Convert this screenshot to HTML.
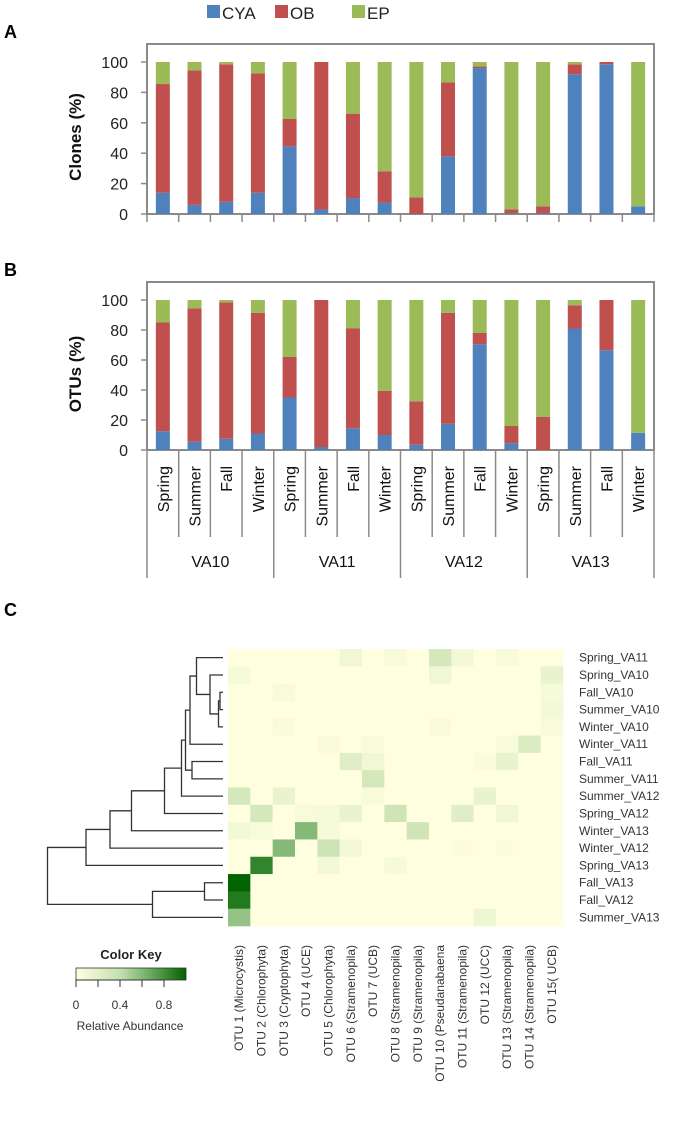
<!DOCTYPE html>
<html><head><meta charset="utf-8"><style>
html,body{margin:0;padding:0;background:#fff;}
svg{display:block;font-family:"Liberation Sans",Arial,sans-serif;}
</style></head><body>
<svg id="fig" width="685" height="1131" viewBox="0 0 685 1131">
<g id="legend">
 <rect x="207" y="5" width="13" height="13" fill="#4f81bd"/>
 <text x="222" y="19" font-size="17" fill="#222">CYA</text>
 <rect x="275" y="5" width="13" height="13" fill="#c0504d"/>
 <text x="290" y="19" font-size="17" fill="#222">OB</text>
 <rect x="352" y="5" width="13" height="13" fill="#9bbb59"/>
 <text x="367" y="19" font-size="17" fill="#222">EP</text>
</g>
<text x="4" y="38" font-size="18" font-weight="bold">A</text>
<text x="4" y="276" font-size="18" font-weight="bold">B</text>
<text x="4" y="616" font-size="18" font-weight="bold">C</text>
<g id="chartA"></g>
<g id="chartB"></g>
<g id="heat"></g>
<g id="dendro"></g>
<g id="key"></g>
</svg>
<script>
const seasons = ["Spring","Summer","Fall","Winter"];
const sites = ["VA10","VA11","VA12","VA13"];
const yTicks = [0,20,40,60,80,100];
const clonesCYA = [14,6,8,14,44.5,3,10.5,7.5,0,38,96,0.5,0.5,92,98.5,5];
const clonesOB  = [71.5,88.5,90.5,78.5,18,97,55.5,20.5,11,48.5,1,2.5,4.5,6.5,1.5,0];
const otusCYA = [12.5,5.5,7.5,11,35,2,14.5,10,3.5,17.5,70.5,4.5,0,81,66.5,11.5];
const otusOB  = [72.5,89,91,80.5,27,98,66.5,29.5,29,74,7.5,11.5,22,15.5,33.5,0];
const rowLabels = ["Spring_VA11","Spring_VA10","Fall_VA10","Summer_VA10","Winter_VA10","Winter_VA11","Fall_VA11","Summer_VA11","Summer_VA12","Spring_VA12","Winter_VA13","Winter_VA12","Spring_VA13","Fall_VA13","Fall_VA12","Summer_VA13"];
const colLabels = ["OTU 1 (Microcystis)","OTU 2 (Chlorophyta)","OTU 3 (Cryptophyta)","OTU 4 (UCE)","OTU 5 (Chlorophyta)","OTU 6 (Stramenopila)","OTU 7 (UCB)","OTU 8 (Stramenopila)","OTU 9 (Stramenopila)","OTU 10 (Pseudanabaena","OTU 11 (Stramenopila)","OTU 12 (UCC)","OTU 13 (Stramenopila)","OTU 14 (Stramenopila)","OTU 15( UCB)"];
const heatValues = [
[0,0,0,0,0,0.1,0,0.05,0,0.3,0.08,0,0.05,0,0],
[0.07,0,0,0,0,0,0,0,0,0.1,0,0,0,0,0.15],
[0,0,0.05,0,0,0,0,0,0,0,0,0,0,0,0.07],
[0,0,0,0,0,0,0,0,0,0,0,0,0,0,0.08],
[0,0,0.04,0,0,0,0,0,0,0.05,0,0,0,0,0.05],
[0,0,0,0,0.05,0,0.05,0,0,0,0,0,0.05,0.25,0],
[0,0,0,0,0,0.22,0.1,0,0,0,0,0.04,0.15,0,0],
[0,0,0,0,0,0,0.3,0,0,0,0,0,0,0,0],
[0.3,0,0.15,0,0,0,0.05,0,0,0,0,0.15,0,0,0],
[0,0.3,0,0.05,0.07,0.15,0,0.33,0,0,0.22,0,0.1,0,0],
[0.08,0.05,0,0.6,0.06,0,0,0,0.33,0,0,0,0,0,0],
[0,0,0.6,0,0.35,0.08,0,0,0,0,0.03,0,0.03,0,0],
[0,0.85,0,0,0.08,0,0,0.06,0,0,0,0,0,0,0],
[1,0,0,0,0,0,0,0,0,0,0,0,0,0,0],
[0.9,0,0,0,0,0,0,0,0,0,0,0,0,0,0],
[0.55,0,0,0,0,0,0,0,0,0,0,0.12,0,0,0]];
const keyTicks = [0,0.2,0.4,0.6,0.8];
const keyLabels = [0,0.4,0.8];

const NS="http://www.w3.org/2000/svg";
function mk(p,t,a){const e=document.createElementNS(NS,t);for(const k in a)e.setAttribute(k,a[k]);p.appendChild(e);return e;}

function barChart(gid,cya,ob,top,y0,y100,ylabel,withCats){
  const g=document.getElementById(gid);
  const L=147,R=654,n=cya.length,cw=(R-L)/n,bw=14;
  const x=i=>L+cw*(i+0.5);
  const y=v=>y0-(v/100)*(y0-y100);
  const fr=mk(g,'rect',{x:L,y:top,width:R-L,height:y0-top,fill:'none',stroke:'#8a8a8a','stroke-width':2});
  
  
  yTicks.forEach(t=>{
    const tk=mk(g,'line',{x1:141,x2:147,y1:y(t),y2:y(t),stroke:'#8a8a8a','stroke-width':1.5});
    
    
    const tl=mk(g,'text',{x:128,y:y(t)+6,'text-anchor':'end','font-size':16,fill:'#222'});
    tl.textContent=t;
    
    
  });
  const yl=mk(g,'text',{x:0,y:0,transform:`translate(81,${(top+y0)/2+8}) rotate(-90)`,'text-anchor':'middle','font-size':17,'font-weight':'bold',fill:'#111'});
  yl.textContent=ylabel;
  
  
  for(let i=0;i<n;i++){
    const c=cya[i],o=ob[i];
    const segs=[[0,c,'#4f81bd','bar-cya'],[c,c+o,'#c0504d','bar-ob'],[c+o,100,'#9bbb59','bar-ep']];
    segs.forEach(s=>{
      if(s[1]-s[0]<=0)return;
      const r=mk(g,'rect',{x:x(i)-bw/2,y:y(s[1]),width:bw,height:y(s[0])-y(s[1]),fill:s[2]});
      
      
    });
  }
  for(let i=0;i<=n;i++){
    const xx=L+cw*i;
    const grp=i%4===0;
    const len=withCats?(grp?y0+128:y0+87):y0+8;
    const ln=mk(g,'line',{x1:xx,x2:xx,y1:y0,y2:len,stroke:'#8a8a8a','stroke-width':1.5});
    
    
  }
  if(withCats){
    for(let i=0;i<n;i++){
      const t=mk(g,'text',{x:0,y:0,transform:`translate(${x(i)+6},466) rotate(-90)`,'text-anchor':'end','font-size':16,fill:'#111'});
      t.textContent=seasons[i%4];
      
      
    }
    sites.forEach((s,j)=>{
      const t=mk(g,'text',{x:L+cw*(4*j+2),y:567,'text-anchor':'middle','font-size':16,fill:'#111'});
      t.textContent=s;
      
      
    });
  }
}
barChart('chartA',clonesCYA,clonesOB,44,214,62,'Clones (%)',false);
barChart('chartB',otusCYA,otusOB,282,450,300,'OTUs (%)',true);

function col(v){
  const stops=[[0,[255,255,224]],[0.4,[197,224,176]],[0.7,[100,165,90]],[1,[0,100,0]]];
  for(let i=1;i<stops.length;i++){if(v<=stops[i][0]){const a=stops[i-1],b=stops[i],t=(v-a[0])/(b[0]-a[0]);
    return 'rgb('+a[1].map((c,k)=>Math.round(c+(b[1][k]-c)*t)).join(',')+')';}}
  return 'rgb(0,100,0)';
}
(function(){
  const g=document.getElementById('heat');
  const X0=228,X1=563,Y0=649,Y1=926;
  const nc=colLabels.length,nr=rowLabels.length,cw=(X1-X0)/nc,rh=(Y1-Y0)/nr;
  heatValues.forEach((row,r)=>row.forEach((v,c)=>{
    const e=mk(g,'rect',{x:X0+c*cw,y:Y0+r*rh,width:cw+0.3,height:rh+0.3,fill:col(v)});
    
    
  }));
  rowLabels.forEach((l,r)=>{
    const t=mk(g,'text',{x:579,y:Y0+(r+0.5)*rh+4,'font-size':12,fill:'#333'});
    t.textContent=l;
    
    
  });
  colLabels.forEach((l,c)=>{
    const t=mk(g,'text',{x:0,y:0,transform:`translate(${X0+(c+0.5)*cw+4},945) rotate(-90)`,'text-anchor':'end','font-size':12,fill:'#333'});
    t.textContent=l;
    
    
  });
  const d=document.getElementById('dendro');
  const ly=i=>Y0+(i+0.5)*rh, LX=223;
  const nodes={};
  for(let i=0;i<nr;i++)nodes['l'+i]={x:LX,y:ly(i)};
  const merges=[['a','l2','l3',220],['b','a','l4',218.5],['c','l1','b',210],['d','l0','c',196.5],['e','d','l5',190],['f','l6','l7',192],['g','e','f',185.5],['h','g','l8',181.5],['i','h','l9',164.5],['j','i','l10',131.5],['k','j','l11',110],['m','k','l12',86],['n','l13','l14',204.5],['o','n','l15',152.5],['root','m','o',47.5]];
  merges.forEach(m=>{
    const a=nodes[m[1]],b=nodes[m[2]],x=m[3];
    const p=mk(d,'path',{d:`M${a.x},${a.y}H${x}V${b.y}H${b.x}`,fill:'none',stroke:'#333','stroke-width':1.3});
    
    
    nodes[m[0]]={x:x,y:(a.y+b.y)/2};
  });
})();
(function(){
  const g=document.getElementById('key');
  const defs=mk(g,'defs',{});
  const lg=mk(defs,'linearGradient',{id:'kg',x1:0,x2:1,y1:0,y2:0});
  [0,0.2,0.4,0.6,0.8,1].forEach(v=>mk(lg,'stop',{offset:v,'stop-color':col(v)}));
  const x0=76,x1=186,kx=v=>x0+v*(x1-x0);
  const t=mk(g,'text',{x:131,y:959,'text-anchor':'middle','font-size':13,'font-weight':'bold',fill:'#222'});
  t.textContent='Color Key';
  
  
  const r=mk(g,'rect',{x:x0,y:968,width:x1-x0,height:12,fill:'url(#kg)',stroke:'#333','stroke-width':0.8});
  
  
  keyTicks.forEach(v=>{
    const l=mk(g,'line',{x1:kx(v),x2:kx(v),y1:980,y2:987,stroke:'#333','stroke-width':1});
    
    
  });
  mk(g,'line',{x1:x0,x2:kx(0.8),y1:980,y2:980,stroke:'#333','stroke-width':1});
  keyLabels.forEach(v=>{
    const tx=mk(g,'text',{x:kx(v),y:1009,'text-anchor':'middle','font-size':12,fill:'#333'});
    tx.textContent=v;
    
    
  });
  const ra=mk(g,'text',{x:130,y:1030,'text-anchor':'middle','font-size':12,fill:'#333'});
  ra.textContent='Relative Abundance';
  
  
})();
</script>
</body></html>
